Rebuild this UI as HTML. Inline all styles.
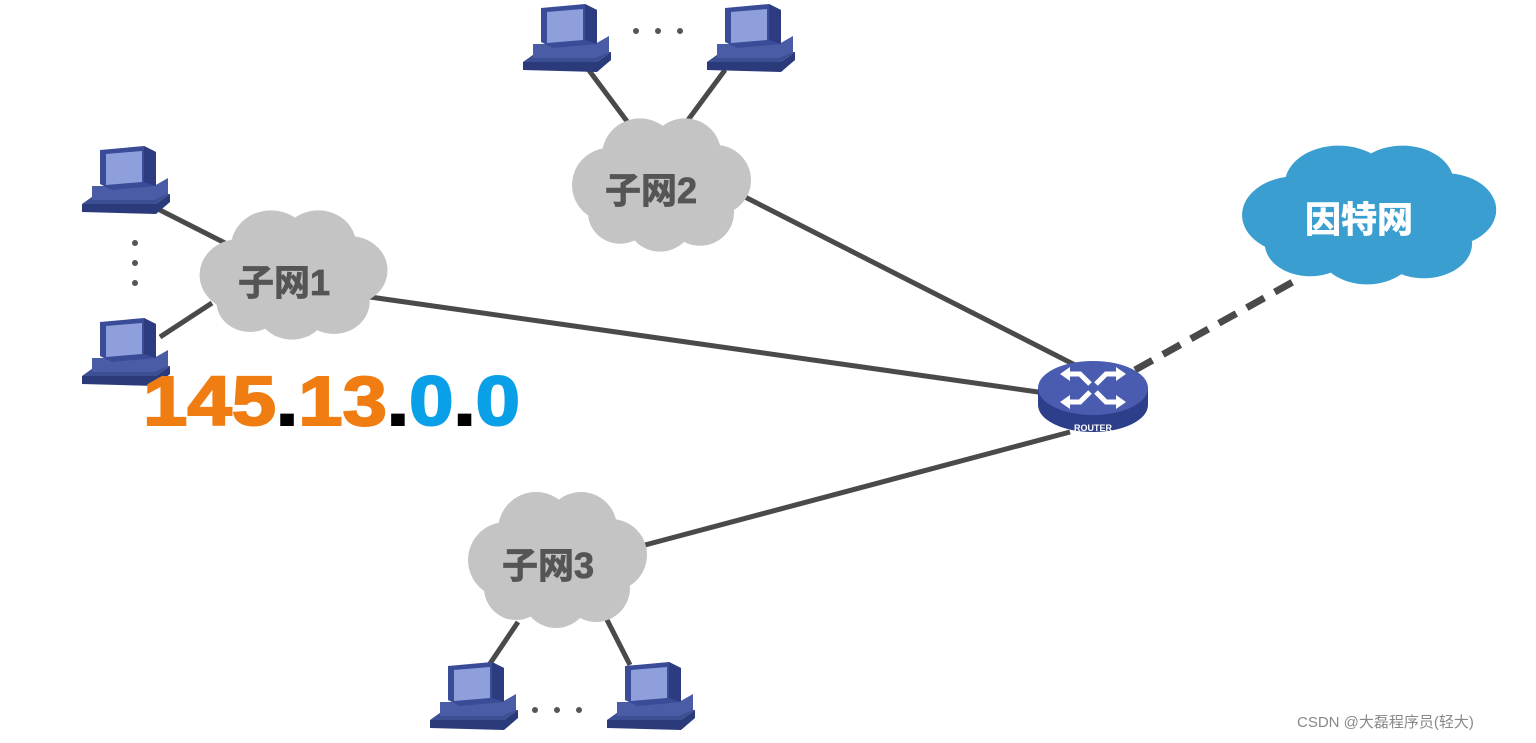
<!DOCTYPE html>
<html><head><meta charset="utf-8"><style>
body{margin:0;background:#fff;}
svg{display:block}
</style></head><body>
<svg width="1536" height="743" viewBox="0 0 1536 743" xmlns="http://www.w3.org/2000/svg">
<defs>
<g id="pc">
 <polygon points="0,62 14,52 88,52 74,62 74,70 0,70" fill="#3d4f93"/>
 <polygon points="0,62 74,62 88,52 88,60 74,72 0,70" fill="#2b3a7a"/>
 <polygon points="10,44 72,44 86,36 86,52 72,58 10,58" fill="#4a5ca6"/>
 <polygon points="18,8 62,4 74,10 74,44 30,48 18,42" fill="#3a4c98"/>
 <polygon points="24,12 60,9 60,40 24,43" fill="#8e9fdc"/>
 <polygon points="62,4 74,10 74,44 62,40" fill="#2d3c80"/>
</g>
<g id="cloud">
 <circle cx="-50" cy="0" r="38"/><circle cx="-20" cy="-30" r="38"/><circle cx="25" cy="-32" r="36"/>
 <circle cx="55" cy="-5" r="36"/><circle cx="40" cy="28" r="34"/><circle cx="0" cy="34" r="34"/>
 <circle cx="-40" cy="28" r="32"/><circle cx="0" cy="0" r="45"/>
</g>
</defs>
<g stroke="#4a4a4a" stroke-width="5" fill="none">
 <line x1="370" y1="297" x2="1045" y2="393"/>
 <line x1="745" y1="197" x2="1075" y2="365"/>
 <line x1="645" y1="545" x2="1070" y2="432"/>
 <line x1="150" y1="205" x2="225" y2="243"/>
 <line x1="160" y1="337" x2="212" y2="303"/>
 <line x1="585" y1="65" x2="632" y2="128"/>
 <line x1="725" y1="70" x2="688" y2="120"/>
 <line x1="518" y1="622" x2="487" y2="668"/>
 <line x1="603" y1="612" x2="630" y2="665"/>
 <line x1="1135" y1="370" x2="1300" y2="278" stroke-dasharray="20,12" stroke-width="7"/>
</g>
<use href="#cloud" transform="translate(292,275) scale(1.05,0.95)" fill="#c4c4c4"/>
<use href="#cloud" transform="translate(660,185) scale(1.0,0.98)" fill="#c4c4c4"/>
<use href="#cloud" transform="translate(556,560) scale(1.0,1.0)" fill="#c4c4c4"/>
<use href="#cloud" transform="translate(1367,215) scale(1.42,1.02)" fill="#3a9fd0"/>
<g font-family="Liberation Sans, Noto Sans CJK SC, sans-serif" font-weight="bold" font-size="36" fill="#555" stroke="#555" stroke-width="0.8">
 <text x="238" y="295">子网1</text>
 <text x="605" y="203">子网2</text>
 <text x="502" y="578">子网3</text>
 <text x="1305" y="232" fill="#fff" stroke="#fff" font-size="36">因特网</text>
</g>
<use href="#pc" x="82" y="142"/>
<use href="#pc" x="82" y="314"/>
<use href="#pc" x="523" y="0"/>
<use href="#pc" x="707" y="0"/>
<use href="#pc" x="430" y="658"/>
<use href="#pc" x="607" y="658"/>
<g fill="#555">
 <circle cx="135" cy="243" r="3"/><circle cx="135" cy="263" r="3"/><circle cx="135" cy="283" r="3"/>
 <circle cx="636" cy="31" r="3"/><circle cx="658" cy="31" r="3"/><circle cx="680" cy="31" r="3"/>
 <circle cx="535" cy="710" r="3"/><circle cx="557" cy="710" r="3"/><circle cx="579" cy="710" r="3"/>
</g>
<!-- router -->
<ellipse cx="1093" cy="405" rx="55" ry="27" fill="#2d3f8a"/>
<rect x="1038" y="388" width="110" height="17" fill="#2d3f8a"/>
<ellipse cx="1093" cy="388" rx="55" ry="27" fill="#4a5cb0"/>
<g stroke="#fff" stroke-width="5" fill="none">
 <path d="M1064,374 l16,0 l10,10"/>
 <path d="M1122,374 l-16,0 l-10,10"/>
 <path d="M1064,402 l16,0 l10,-10"/>
 <path d="M1122,402 l-16,0 l-10,-10"/>
</g>
<g fill="#fff">
 <polygon points="1060,374 1070,367 1070,381"/>
 <polygon points="1126,374 1116,367 1116,381"/>
 <polygon points="1060,402 1070,395 1070,409"/>
 <polygon points="1126,402 1116,395 1116,409"/>
</g>
<text x="1093" y="431" text-anchor="middle" font-family="Liberation Sans, sans-serif" font-weight="bold" font-size="9" fill="#fff">ROUTER</text>
<text x="143" y="425" font-family="Liberation Sans, sans-serif" font-weight="bold" font-size="70" textLength="377" lengthAdjust="spacingAndGlyphs" stroke-width="2"><tspan fill="#f07d12" stroke="#f07d12">145</tspan><tspan fill="#000" stroke="#000">.</tspan><tspan fill="#f07d12" stroke="#f07d12">13</tspan><tspan fill="#000" stroke="#000">.</tspan><tspan fill="#0aa0e8" stroke="#0aa0e8">0</tspan><tspan fill="#000" stroke="#000">.</tspan><tspan fill="#0aa0e8" stroke="#0aa0e8">0</tspan></text>
<text x="1297" y="727" font-family="Liberation Sans, Noto Sans CJK SC, sans-serif" font-size="15" fill="#888">CSDN @大磊程序员(轻大)</text>
</svg>
</body></html>
